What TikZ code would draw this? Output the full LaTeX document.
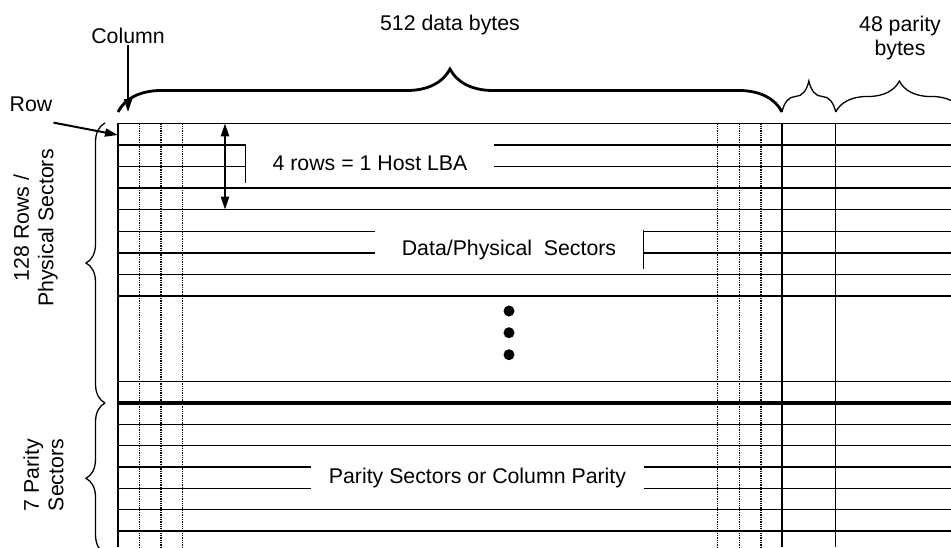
\documentclass[tikz,border=0pt]{standalone}
\usepackage{fontspec}
\setmainfont{Liberation Sans}
\usetikzlibrary{arrows.meta,decorations.pathreplacing}
\newcommand{\sectorrow}[1]{\draw[rowline] (118,#1) -- (951,#1);}
\newcommand{\bytecol}[1]{\draw[colline] (#1,123.3) -- (#1,547);}
\newcommand{\dotcol}[1]{\draw[dotline] (#1,123.3) -- (#1,547);}

\begin{document}
\begin{tikzpicture}[x=1pt,y=-1pt,
  rowline/.style={line width=1.4pt},
  colline/.style={line width=1.4pt},
  dotline/.style={line width=1.6pt,dash pattern=on 1.3pt off 1pt},
  lbl/.style={font=\fontsize{21.3}{24.5}\selectfont,align=center,inner sep=1pt},
  textbox/.style={lbl,fill=white,inner sep=0pt},
  bigbrace/.style={decorate,decoration={brace,amplitude=43pt},line width=2.8pt},
  smallbrace/.style={decorate,decoration={brace,amplitude=#1},line width=1.3pt},
  pointer/.style={-{Triangle[length=13pt,width=8pt]},line width=2pt}]
\useasboundingbox (0,0) rectangle (951,547);
\clip (0,0) rectangle (951,547);

% data sectors
\sectorrow{123.3} \sectorrow{144.9} \sectorrow{166.5} \sectorrow{188.1}
\sectorrow{209.7} \sectorrow{231.3} \sectorrow{252.9} \sectorrow{274.5}
\sectorrow{296.1} \sectorrow{381.7}
% parity sectors
\draw[line width=4pt] (118,403) -- (951,403);
\sectorrow{424.3} \sectorrow{445.6} \sectorrow{466.9} \sectorrow{488.2}
\sectorrow{509.5} \sectorrow{530.8}

% byte columns
\bytecol{118} \dotcol{139.5} \dotcol{161} \dotcol{182.5}
\dotcol{717.3} \dotcol{739.3} \dotcol{760.7} \bytecol{782} \bytecol{835.7}

\node[textbox,minimum width=248pt,minimum height=38.5pt] (lba) at (370,163.5) {4 rows = 1 Host LBA};
\draw[line width=1pt] (lba.north west) -- (lba.south west);
\node[textbox,minimum width=268pt,minimum height=38.5pt] (data) at (509,249.5) {Data/Physical\ \ Sectors};
\draw[line width=1pt] (data.north east) -- (data.south east);
\node[textbox,minimum width=333pt,minimum height=31pt] (parity) at (477.5,477.5) {Parity Sectors or Column Parity};

\coordinate (lba-top) at (225,123.3);
\coordinate (lba-bot) at (225,209.7);
\draw[{Triangle[length=13pt,width=8pt]}-{Triangle[length=13pt,width=8pt]},line width=2pt] (lba-top) -- (lba-bot);

\fill (509,311) circle[radius=5.5pt];
\fill (509,332.7) circle[radius=5.5pt];
\fill (509,354.7) circle[radius=5.5pt];

% braces
\draw[bigbrace] (118,112) -- (782,112);
\draw[smallbrace=31pt] (782,112) -- (835.7,112);
\draw[smallbrace=31pt] (835.7,112) -- (963,112);
\draw[smallbrace=19pt] (105,403) -- (105,123);
\draw[smallbrace=19pt] (105,553.6) -- (105,403);

% labels
\node[lbl] (databytes) at (450,25) {512 data bytes};
\node[lbl] (paritybytes) at (900,38) {48 parity\\bytes};
\node[lbl,rotate=90] (datarows) at (35.5,228) {128 Rows /\\Physical Sectors};
\node[lbl,rotate=90] (parityrows) at (43.5,475) {7 Parity\\Sectors};

\node[lbl] (column) at (128,36) {Column};
\coordinate (col-tip) at (128,112);
\draw[pointer] (column.south) -- (col-tip);
\node[lbl] (row) at (31,104) {Row};
\coordinate (row-tip) at (118,135);
\draw[pointer] ([yshift=-10pt]row.south east) -- (row-tip);
\end{tikzpicture}
\end{document}
